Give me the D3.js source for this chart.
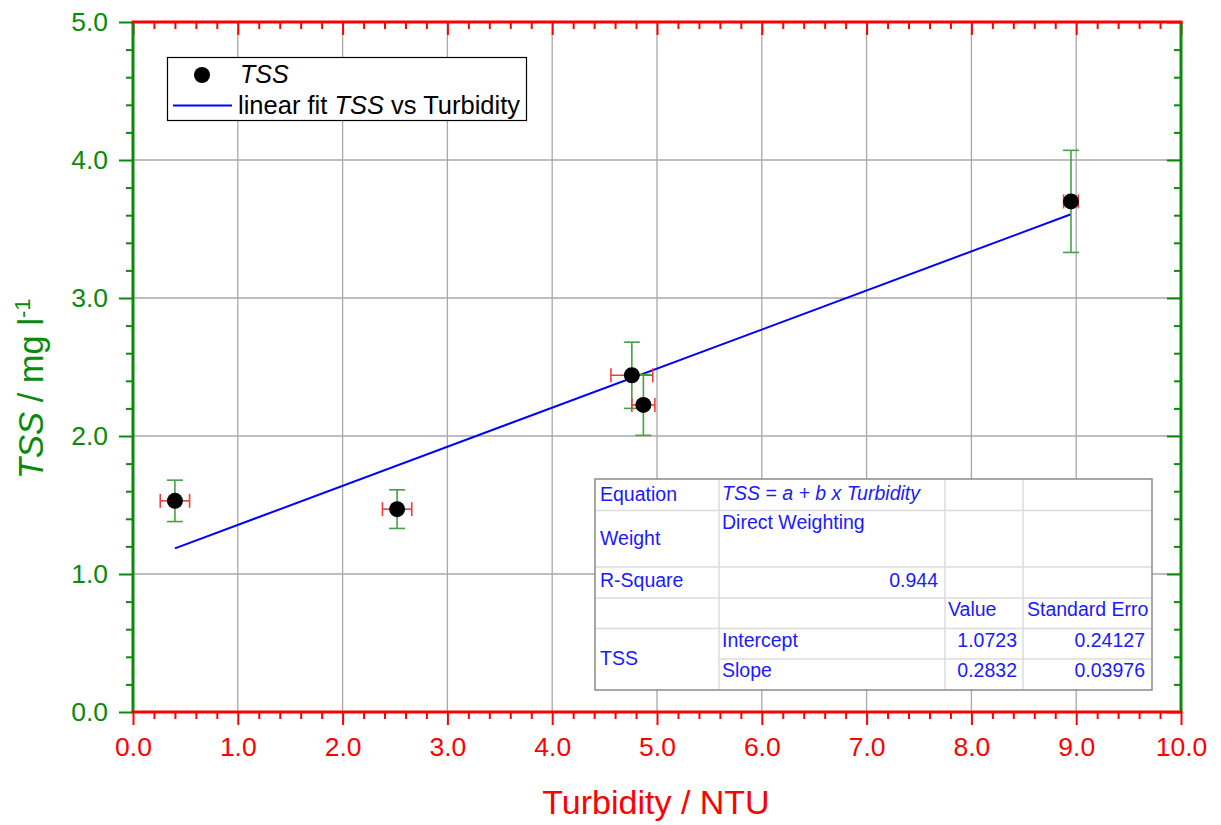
<!DOCTYPE html>
<html>
<head>
<meta charset="utf-8">
<script src="https://cdn.jsdelivr.net/npm/d3@7"></script>
<style>
  html, body { margin: 0; padding: 0; background: #fff; }
  svg { display: block; font-family: "Liberation Sans", Arial, sans-serif; }
</style>
</head>
<body>
<svg id="chart" width="1221" height="825"></svg>
<script>
// ---- data ----
const turbidity = [0.40, 2.52, 4.76, 4.87, 8.95];
const tss = [1.53, 1.47, 2.44, 2.225, 3.70];
const turbidityErr = [0.14, 0.14, 0.20, 0.11, 0.07];
const tssErr = [0.15, 0.14, 0.24, 0.22, 0.37];
const fitIntercept = 1.0723;
const fitSlope = 0.2832;
const xTickValues = [0,1,2,3,4,5,6,7,8,9,10];
const yTickValues = [0,1,2,3,4,5];
const xTickLabels = ["0.0","1.0","2.0","3.0","4.0","5.0","6.0","7.0","8.0","9.0","10.0"];
const yTickLabels = ["0.0","1.0","2.0","3.0","4.0","5.0"];
const tableLabels = ["Equation","Weight","R-Square","","TSS"];
const tableValues = [["Intercept","1.0723","0.24127"],["Slope","0.2832","0.03976"]];
const tableHeader = ["Value","Standard Erro"];
const rSquare = "0.944";

// ---- layout ----
const RED = "#ff0000", GREEN = "#0a8a0a", BLUE = "#0000ff", TBLUE = "#1a1aff";
const svg = d3.select("#chart");
const x = d3.scaleLinear().domain([0, 10]).range([133, 1181]);
const y = d3.scaleLinear().domain([0, 5]).range([712, 22]);
const minorX = d3.range(0, 10.001, 0.2).filter(v => Math.abs(v - Math.round(v)) > 1e-6);
const minorY = d3.range(0, 5.001, 0.2).filter(v => Math.abs(v - Math.round(v)) > 1e-6);

// grid
const grid = svg.append("g").attr("stroke", "#a8a8a8").attr("stroke-width", 1.3);
grid.selectAll("line.gx").data(xTickValues.slice(1, -1)).join("line")
  .attr("x1", d => x(d)).attr("x2", d => x(d)).attr("y1", y(0)).attr("y2", y(5));
grid.selectAll("line.gy").data(yTickValues.slice(1, -1)).join("line")
  .attr("y1", d => y(d)).attr("y2", d => y(d)).attr("x1", x(0)).attr("x2", x(10));

function styleAxis(g, color, width) {
  g.select(".domain").remove();
  g.selectAll(".tick line").attr("stroke", color).attr("stroke-width", width);
}
// bottom (outward)
const gB = svg.append("g").attr("transform", `translate(0,${y(0)})`);
gB.append("g").call(d3.axisBottom(x).tickValues(minorX).tickSize(7).tickFormat(""))
  .call(g => styleAxis(g, RED, 2));
gB.append("g").call(d3.axisBottom(x).tickValues(xTickValues).tickSize(13).tickPadding(12)
  .tickFormat((d, i) => xTickLabels[i]))
  .call(g => styleAxis(g, RED, 2))
  .call(g => g.selectAll("text").attr("fill", RED).attr("font-size", 26.5)
    .attr("font-family", '"Liberation Sans", Arial, sans-serif'));
// top (inward)
const gT = svg.append("g").attr("transform", `translate(0,${y(5)})`);
gT.append("g").call(d3.axisBottom(x).tickValues(minorX).tickSize(7).tickFormat(""))
  .call(g => styleAxis(g, RED, 2));
gT.append("g").call(d3.axisBottom(x).tickValues(xTickValues).tickSize(13).tickFormat(""))
  .call(g => styleAxis(g, RED, 2));
// left (outward)
const gL = svg.append("g").attr("transform", `translate(${x(0)},0)`);
gL.append("g").call(d3.axisLeft(y).tickValues(minorY).tickSize(7).tickFormat(""))
  .call(g => styleAxis(g, GREEN, 2));
gL.append("g").call(d3.axisLeft(y).tickValues(yTickValues).tickSize(14).tickPadding(11)
  .tickFormat((d, i) => yTickLabels[i]))
  .call(g => styleAxis(g, GREEN, 2))
  .call(g => g.selectAll("text").attr("fill", GREEN).attr("font-size", 26.5)
    .attr("font-family", '"Liberation Sans", Arial, sans-serif'));
// right (inward)
const gR = svg.append("g").attr("transform", `translate(${x(10)},0)`);
gR.append("g").call(d3.axisLeft(y).tickValues(minorY).tickSize(7).tickFormat(""))
  .call(g => styleAxis(g, GREEN, 2));
gR.append("g").call(d3.axisLeft(y).tickValues(yTickValues).tickSize(14).tickFormat(""))
  .call(g => styleAxis(g, GREEN, 2));

// axis lines
svg.append("line").attr("x1", x(0)).attr("x2", x(0)).attr("y1", y(0)).attr("y2", y(5))
  .attr("stroke", GREEN).attr("stroke-width", 3);
svg.append("line").attr("x1", x(10)).attr("x2", x(10)).attr("y1", y(0)).attr("y2", y(5))
  .attr("stroke", GREEN).attr("stroke-width", 3);
svg.append("line").attr("x1", x(0) - 1.5).attr("x2", x(10) + 1.5).attr("y1", y(0)).attr("y2", y(0))
  .attr("stroke", RED).attr("stroke-width", 3);
svg.append("line").attr("x1", x(0) - 1.5).attr("x2", x(10) + 1.5).attr("y1", y(5)).attr("y2", y(5))
  .attr("stroke", RED).attr("stroke-width", 3);

// axis titles
svg.append("text").attr("x", 656).attr("y", 814).attr("text-anchor", "middle")
  .attr("fill", RED).attr("font-size", 34).text("Turbidity / NTU");
const yt = svg.append("text").attr("transform", "translate(43,479) rotate(-90)")
  .attr("fill", GREEN).attr("font-size", 34.5);
yt.append("tspan").attr("font-style", "italic").text("TSS");
yt.append("tspan").text(" / mg l");
yt.append("tspan").attr("font-size", 22).attr("dy", -13).text("-1");

// fit line
const xMin = d3.min(turbidity), xMax = d3.max(turbidity);
svg.append("line")
  .attr("x1", x(xMin)).attr("y1", y(fitIntercept + fitSlope * xMin))
  .attr("x2", x(xMax)).attr("y2", y(fitIntercept + fitSlope * xMax))
  .attr("stroke", BLUE).attr("stroke-width", 2);

// error bars + points
const pts = turbidity.map((t, i) => ({x: t, y: tss[i], ex: turbidityErr[i], ey: tssErr[i]}));
const eb = svg.append("g");
pts.forEach(p => {
  const g = eb.append("g");
  g.append("line").attr("x1", x(p.x)).attr("x2", x(p.x)).attr("y1", y(p.y - p.ey)).attr("y2", y(p.y + p.ey))
    .attr("stroke", "#46a046").attr("stroke-width", 1.6);
  [p.y - p.ey, p.y + p.ey].forEach(v => g.append("line")
    .attr("x1", x(p.x) - 8).attr("x2", x(p.x) + 8).attr("y1", y(v)).attr("y2", y(v))
    .attr("stroke", "#46a046").attr("stroke-width", 1.6));
  g.append("line").attr("x1", x(p.x - p.ex)).attr("x2", x(p.x + p.ex)).attr("y1", y(p.y)).attr("y2", y(p.y))
    .attr("stroke", "#f03c3c").attr("stroke-width", 1.6);
  [p.x - p.ex, p.x + p.ex].forEach(v => g.append("line")
    .attr("x1", x(v)).attr("x2", x(v)).attr("y1", y(p.y) - 7).attr("y2", y(p.y) + 7)
    .attr("stroke", "#f03c3c").attr("stroke-width", 1.6));
});
svg.append("g").selectAll("circle").data(pts).join("circle")
  .attr("cx", d => x(d.x)).attr("cy", d => y(d.y)).attr("r", 8).attr("fill", "#000");

// legend
const lg = svg.append("g");
lg.append("rect").attr("x", 167.5).attr("y", 57.5).attr("width", 359).attr("height", 63)
  .attr("fill", "#fff").attr("stroke", "#000").attr("stroke-width", 1.2);
lg.append("circle").attr("cx", 202).attr("cy", 75).attr("r", 8).attr("fill", "#000");
lg.append("text").attr("x", 240).attr("y", 83).attr("font-size", 25).attr("font-style", "italic").text("TSS");
lg.append("line").attr("x1", 173).attr("x2", 232).attr("y1", 105.5).attr("y2", 105.5)
  .attr("stroke", BLUE).attr("stroke-width", 2);
const lt = lg.append("text").attr("x", 238).attr("y", 114).attr("font-size", 25.5);
lt.append("tspan").text("linear fit ");
lt.append("tspan").attr("font-style", "italic").text("TSS");
lt.append("tspan").text(" vs Turbidity");

// results table
const colX = [595, 719, 945, 1023, 1152];
const rowY = [479, 510.5, 567, 598, 628.5, 659, 690];
const tb = svg.append("g").attr("font-size", 19.5).attr("fill", TBLUE);
tb.append("rect").attr("x", colX[0]).attr("y", rowY[0]).attr("width", colX[4] - colX[0]).attr("height", rowY[6] - rowY[0])
  .attr("fill", "#fff");
const inner = tb.append("g").attr("stroke", "#dcdcdc").attr("stroke-width", 1.5);
[1, 2, 3].forEach(c => inner.append("line").attr("x1", colX[c]).attr("x2", colX[c]).attr("y1", rowY[0]).attr("y2", rowY[6]));
[1, 2, 3, 4].forEach(r => inner.append("line").attr("x1", colX[0]).attr("x2", colX[4]).attr("y1", rowY[r]).attr("y2", rowY[r]));
inner.append("line").attr("x1", colX[1]).attr("x2", colX[4]).attr("y1", rowY[5]).attr("y2", rowY[5]);
tb.append("rect").attr("x", colX[0]).attr("y", rowY[0]).attr("width", colX[4] - colX[0]).attr("height", rowY[6] - rowY[0])
  .attr("fill", "none").attr("stroke", "#8a8a8a").attr("stroke-width", 1.5);
const labBase = [501, 545, 587, 0, 665];
tableLabels.forEach((t, i) => { if (t) tb.append("text").attr("x", 600).attr("y", labBase[i]).text(t); });
tb.append("text").attr("x", 722).attr("y", 500).attr("font-style", "italic").text("TSS = a + b x Turbidity");
tb.append("text").attr("x", 722).attr("y", 529).text("Direct Weighting");
tb.append("text").attr("x", 938).attr("y", 587).attr("text-anchor", "end").text(rSquare);
const clip = svg.append("defs").append("clipPath").attr("id", "tclip");
clip.append("rect").attr("x", colX[0]).attr("y", rowY[0]).attr("width", colX[4] - colX[0] - 1).attr("height", rowY[6] - rowY[0]);
tb.append("text").attr("x", 948).attr("y", 616).text(tableHeader[0]);
tb.append("text").attr("x", 1027).attr("y", 616).attr("clip-path", "url(#tclip)").text(tableHeader[1]);
const vBase = [647, 677];
tableValues.forEach((row, i) => {
  tb.append("text").attr("x", 722).attr("y", vBase[i]).text(row[0]);
  tb.append("text").attr("x", 1017).attr("y", vBase[i]).attr("text-anchor", "end").text(row[1]);
  tb.append("text").attr("x", 1145).attr("y", vBase[i]).attr("text-anchor", "end").text(row[2]);
});
</script>
</body>
</html>
